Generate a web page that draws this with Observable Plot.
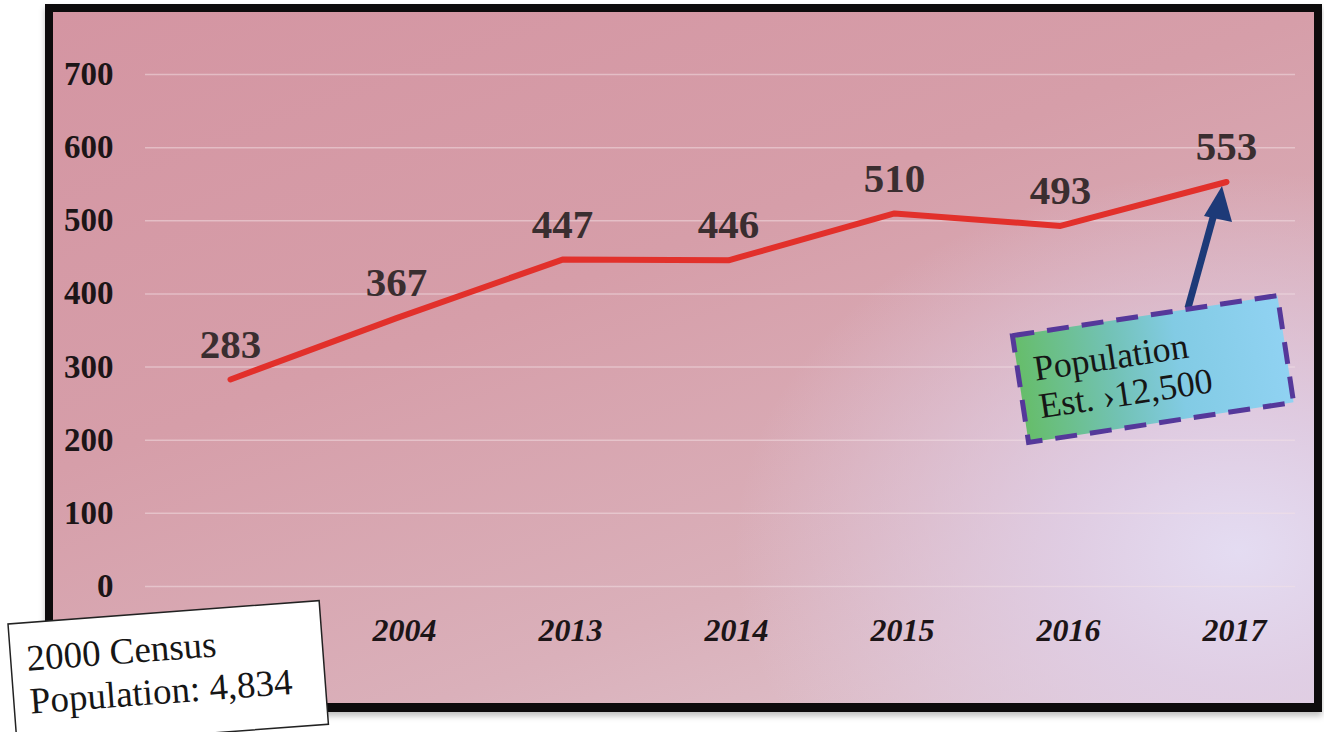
<!DOCTYPE html>
<html>
<head>
<meta charset="utf-8">
<script src="https://cdn.jsdelivr.net/npm/d3@7"></script>
<script src="https://cdn.jsdelivr.net/npm/@observablehq/plot@0.6"></script>
<style>
  html, body { margin: 0; padding: 0; background: #ffffff; }
  #wrap { position: relative; width: 1324px; height: 732px; overflow: hidden; }
  #panel {
    position: absolute; left: 45px; top: 4px; width: 1277px; height: 708px;
    box-sizing: border-box; border: 8px solid #0d0b0c; border-bottom-width: 9px;
    box-shadow: 0 4px 6px rgba(0,0,0,0.25);
    background:
      radial-gradient(ellipse 40% 55% at 94% 78%, rgba(228,220,242,1) 0%, rgba(224,208,232,0.85) 35%, rgba(220,195,215,0) 100%),
      linear-gradient(160deg, #d495a2 0%, #d69ea9 40%, #dab0ba 72%, #e0c8d2 100%);
  }
  #chart { position: absolute; left: 0; top: 0; }
</style>
</head>
<body>
<div id="wrap">
  <div id="panel"></div>
  <div id="chart"></div>
</div>
<script>
const years = ["2000", "2004", "2013", "2014", "2015", "2016", "2017"];
const counts = [283, 367, 447, 446, 510, 493, 553];
const yTicks = [0, 100, 200, 300, 400, 500, 600, 700];
const censusNote = ["2000 Census", "Population: 4,834"];
const estimateNote = ["Population", "Est. \u203A12,500"];

const data = years.map((y, i) => ({year: y, value: counts[i]}));

const plot = Plot.plot({
  width: 1324,
  height: 732,
  marginLeft: 145,
  marginRight: 29,
  marginTop: 74,
  marginBottom: 146,
  style: {background: "transparent", overflow: "visible"},
  x: {type: "point", domain: years, range: [228, 1228], padding: 0, label: null},
  y: {domain: [0, 700], label: null},
  marks: [
    Plot.gridY(yTicks, {stroke: "#f4e2e6", strokeOpacity: 0.5, strokeWidth: 1.5}),
    Plot.axisY(yTicks, {
      tickSize: 0, tickPadding: 32, fontSize: 33, fontWeight: "bold",
      fontFamily: "Liberation Serif, serif", fill: "#1c1517", label: null
    }),
    Plot.axisX({
      tickSize: 0, tickPadding: 32, fontSize: 32, fontWeight: "bold", fontStyle: "italic",
      fontFamily: "Liberation Serif, serif", fill: "#1c1517", label: null, dx: 8
    }),
    Plot.line(data, {
      x: "year", y: "value", stroke: "#e2302b", strokeWidth: 6,
      strokeLinecap: "round", strokeLinejoin: "round"
    }),
    Plot.text(data, {
      x: "year", y: "value", text: d => String(d.value), dy: -35,
      fontSize: 41, fontWeight: "bold", fontFamily: "Liberation Serif, serif", fill: "#3a2e30"
    })
  ]
});
document.getElementById("chart").appendChild(plot);

const svg = d3.select(plot);
const defs = svg.append("defs");
const grad = defs.append("linearGradient").attr("id", "boxgrad")
  .attr("x1", "0%").attr("x2", "100%").attr("y1", "0%").attr("y2", "0%");
grad.append("stop").attr("offset", "0%").attr("stop-color", "#66bd6a");
grad.append("stop").attr("offset", "35%").attr("stop-color", "#72c2b4");
grad.append("stop").attr("offset", "60%").attr("stop-color", "#82cbe4");
grad.append("stop").attr("offset", "100%").attr("stop-color", "#90d2f2");

// Arrow from estimate box to the last point
const ann = svg.append("g");
ann.append("line")
  .attr("x1", 1188).attr("y1", 308).attr("x2", 1214).attr("y2", 214)
  .attr("stroke", "#1d3a78").attr("stroke-width", 7);
ann.append("polygon")
  .attr("points", "1222,186 1204,216 1232,222")
  .attr("fill", "#1d3a78");

// Estimate box
const eb = svg.append("g").attr("transform", "translate(1153,369) rotate(-8.6)");
eb.append("rect").attr("x", -134).attr("y", -54).attr("width", 268).attr("height", 108)
  .attr("fill", "url(#boxgrad)").attr("stroke", "#55389a").attr("stroke-width", 5)
  .attr("stroke-dasharray", "22 13");
eb.selectAll("text").data(estimateNote).join("text")
  .attr("x", -118).attr("y", (d, i) => -6 + i * 38)
  .attr("text-anchor", "start")
  .attr("font-family", "Liberation Serif, serif").attr("font-size", 36)
  .attr("fill", "#161616").text(d => d);

// Census box
const cb = svg.append("g").attr("transform", "translate(8,624) rotate(-4.3)");
cb.append("rect").attr("x", 0).attr("y", 0).attr("width", 312).attr("height", 124)
  .attr("fill", "#ffffff").attr("stroke", "#222").attr("stroke-width", 1.5);
cb.selectAll("text").data(censusNote).join("text")
  .attr("x", 16).attr("y", (d, i) => 48 + i * 43)
  .attr("text-anchor", "start")
  .attr("font-family", "Liberation Serif, serif").attr("font-size", 37)
  .attr("fill", "#161616").text(d => d);
</script>
</body>
</html>
